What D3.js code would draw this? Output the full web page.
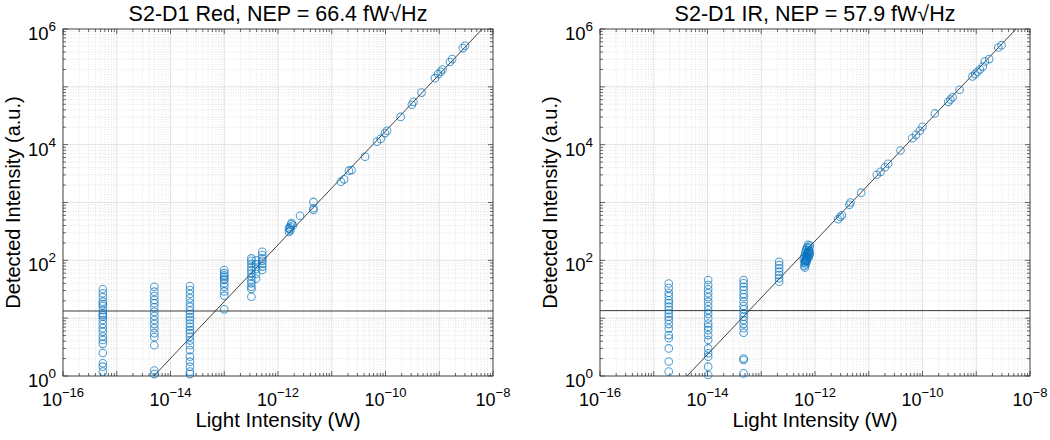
<!DOCTYPE html>
<html><head><meta charset="utf-8">
<script src="https://cdn.jsdelivr.net/npm/d3@7"></script>
<style>body{margin:0;background:#fff}svg{display:block;font-family:"Liberation Sans",Arial,Helvetica,sans-serif}</style>
</head><body><svg id="c" width="1050" height="440"></svg>
<script>
// ---------- data ----------
const titles = ["S2-D1 Red, NEP = 66.4 fW\u221AHz", "S2-D1 IR, NEP = 57.9 fW\u221AHz"];
const xLabel = "Light Intensity (W)";
const yLabel = "Detected Intensity (a.u.)";
const xTickExps = [-16, -14, -12, -10, -8];
const yTickExps = [0, 2, 4, 6];

// Red panel: low-light clusters (x, list of y)
const redClusterX = [5.5e-16, 5e-15, 2.3e-14, 1e-13, 3.2e-13, 3.9e-13, 5.1e-13];
const redClusterY = [
  [31.6, 27, 23, 19.3, 17.5, 16.2, 13.8, 12.1, 11.3, 10.6, 9.3, 7.9, 6.7, 5.8, 4.8, 4.2, 3.6, 2.5, 1.66, 1.45, 1.19],
  [35, 28.7, 24.2, 20.6, 18.1, 15.4, 12.9, 10.9, 9.3, 7.9, 6.7, 5.5, 4.7, 3.4, 1.24, 1.08],
  [36, 30.7, 26.2, 22, 18.5, 15.8, 13.5, 11.8, 10.4, 9.3, 8.1, 7.1, 6.2, 5.5, 4.8, 4.1, 3.4, 2.8, 2.16, 1.77, 1.45, 1.19, 1.08],
  [68, 60, 55, 52, 48, 45.6, 40, 35, 29, 24.5, 14.2],
  [108, 98, 87, 76, 67, 59, 52, 45, 40, 35, 32, 23.5],
  [100, 85, 70, 58, 48],
  [141, 123, 108, 98, 87, 78, 68]
];
const redHighX = [1.6e-12, 1.65e-12, 1.7e-12, 1.75e-12, 1.8e-12, 1.7e-12, 1.9e-12, 1.6e-12,
  2.57e-12, 4.57e-12, 4.57e-12, 4.57e-12, 1.48e-11, 1.70e-11, 2.09e-11, 2.34e-11, 4.17e-11,
  6.92e-11, 8.13e-11, 9.77e-11, 1.07e-10, 1.91e-10, 3.09e-10, 3.31e-10, 4.68e-10,
  8.32e-10, 9.55e-10, 1.07e-9, 1.15e-9, 1.58e-9, 1.74e-9, 2.75e-9, 3.02e-9];
const redHighY = [310, 350, 380, 420, 440, 330, 400, 360,
  589, 1023, 741, 794, 2290, 2512, 3548, 3631, 6166,
  11220, 12590, 15850, 17380, 30200, 48980, 54950, 79430,
  141250, 165960, 181970, 199530, 269150, 302000, 467740, 512860];

// IR panel
const irClusterX = [1.9e-15, 1.03e-14, 4.7e-14, 2.15e-13];
const irClusterY = [
  [39.8, 33.1, 27.5, 24.0, 20.4, 18.2, 15.8, 13.8, 12.0, 10.6, 9.3, 7.9, 6.6, 5.1, 4.5, 3.0, 1.78, 1.19],
  [45.7, 37.5, 31.6, 26.9, 23, 19.3, 16.2, 13.8, 11.8, 9.9, 8.1, 7.1, 6.2, 5.1, 4.2, 3.0, 2.47, 2.16, 1.45, 1.04],
  [45.7, 40, 35, 30.7, 26.2, 23, 19.3, 16.2, 14.2, 12.1, 10.6, 9.3, 7.9, 6.7, 5.6, 2.0, 1.89, 1.11],
  [94.7, 83, 72.8, 63.7, 55.8, 48.9, 42.8]
];
const irHighX = [6.3e-13, 6.5e-13, 6.6e-13, 6.8e-13, 7.0e-13, 7.2e-13, 7.4e-13, 7.6e-13, 7.8e-13, 8.0e-13,
  6.4e-13, 6.7e-13, 6.9e-13, 7.1e-13, 7.3e-13, 7.5e-13, 7.7e-13, 7.9e-13, 6.2e-13, 6.4e-13,
  6.6e-13, 6.8e-13, 7.0e-13, 7.2e-13, 7.4e-13, 6.5e-13, 7.0e-13, 7.5e-13, 8.0e-13, 7.8e-13,
  2.69e-12, 2.95e-12, 3.16e-12, 4.37e-12, 4.57e-12, 7.24e-12, 1.41e-11, 1.66e-11, 2.00e-11, 2.29e-11,
  3.89e-11, 6.46e-11, 7.59e-11, 8.91e-11, 1.0e-10, 1.70e-10, 3.02e-10, 3.31e-10, 3.63e-10, 4.90e-10,
  8.51e-10, 9.55e-10, 1.05e-9, 1.17e-9, 1.32e-9, 1.45e-9, 1.74e-9, 2.57e-9, 2.95e-9];
const irHighY = [80, 90, 100, 110, 120, 130, 140, 150, 165, 180,
  95, 85, 100, 105, 115, 125, 135, 145, 105, 120,
  135, 150, 160, 170, 185, 75, 95, 110, 130, 120,
  513, 562, 603, 912, 1000, 1479, 3020, 3388, 4074, 4677,
  7943, 12880, 14790, 17380, 20420, 34670, 54950, 60260, 66070, 89130,
  151360, 165960, 181970, 199530, 223870, 275420, 302000, 478630, 524810];

// fit lines (two end points each) and noise floors
const redFitX = [4.9e-15, 6.3e-9], redFitY = [1, 1e6];
const irFitX = [4.17e-15, 5.5e-9], irFitY = [1, 1e6];
const noiseLevels = [13.3, 13.5];

// ---------- drawing ----------
const svg = d3.select("#c");
const yTop = 29, yBot = 376;
const panels = [
  {x0: 63, x1: 493, title: titles[0], clX: redClusterX, clY: redClusterY, hX: redHighX, hY: redHighY, fX: redFitX, fY: redFitY, noise: noiseLevels[0]},
  {x0: 600, x1: 1030, title: titles[1], clX: irClusterX, clY: irClusterY, hX: irHighX, hY: irHighY, fX: irFitX, fY: irFitY, noise: noiseLevels[1]}
];
const axCol = "#262626";

panels.forEach((p, pi) => {
  const x = d3.scaleLog().domain([1e-16, 1e-8]).range([p.x0, p.x1]);
  const y = d3.scaleLog().domain([1, 1e6]).range([yBot, yTop]);
  const g = svg.append("g");
  const clipId = "clip" + pi;
  svg.append("clipPath").attr("id", clipId).append("rect")
    .attr("x", p.x0).attr("y", yTop).attr("width", p.x1 - p.x0).attr("height", yBot - yTop);

  const xMajor = d3.range(-16, -7).map(e => Math.pow(10, e));
  const yMajor = d3.range(0, 7).map(e => Math.pow(10, e));
  const xMinor = [], yMinor = [];
  d3.range(-16, -8).forEach(e => d3.range(2, 10).forEach(k => xMinor.push(k * Math.pow(10, e))));
  d3.range(0, 6).forEach(e => d3.range(2, 10).forEach(k => yMinor.push(k * Math.pow(10, e))));

  g.selectAll(".gxm").data(xMinor).join("line")
    .attr("x1", d => x(d)).attr("x2", d => x(d)).attr("y1", yTop).attr("y2", yBot)
    .attr("stroke", "#d4d4d4").attr("stroke-width", 0.6).attr("stroke-dasharray", "1,1.5");
  g.selectAll(".gym").data(yMinor).join("line")
    .attr("y1", d => y(d)).attr("y2", d => y(d)).attr("x1", p.x0).attr("x2", p.x1)
    .attr("stroke", "#d4d4d4").attr("stroke-width", 0.6).attr("stroke-dasharray", "1,1.5");
  g.selectAll(".gx").data(xMajor).join("line")
    .attr("x1", d => x(d)).attr("x2", d => x(d)).attr("y1", yTop).attr("y2", yBot)
    .attr("stroke", "#dcdcdc").attr("stroke-width", 0.8);
  g.selectAll(".gy").data(yMajor).join("line")
    .attr("y1", d => y(d)).attr("y2", d => y(d)).attr("x1", p.x0).attr("x2", p.x1)
    .attr("stroke", "#dcdcdc").attr("stroke-width", 0.8);

  const tk = g.append("g").attr("stroke", axCol).attr("stroke-width", 0.7);
  [[xMajor, 5], [xMinor, 3]].forEach(([vals, len]) => {
    vals.forEach(v => {
      tk.append("line").attr("x1", x(v)).attr("x2", x(v)).attr("y1", yBot).attr("y2", yBot - len);
      tk.append("line").attr("x1", x(v)).attr("x2", x(v)).attr("y1", yTop).attr("y2", yTop + len);
    });
  });
  [[yMajor, 5], [yMinor, 3]].forEach(([vals, len]) => {
    vals.forEach(v => {
      tk.append("line").attr("y1", y(v)).attr("y2", y(v)).attr("x1", p.x0).attr("x2", p.x0 + len);
      tk.append("line").attr("y1", y(v)).attr("y2", y(v)).attr("x1", p.x1).attr("x2", p.x1 - len);
    });
  });
  g.append("rect").attr("x", p.x0).attr("y", yTop).attr("width", p.x1 - p.x0).attr("height", yBot - yTop)
    .attr("fill", "none").attr("stroke", axCol).attr("stroke-width", 0.8);

  g.append("line").attr("clip-path", `url(#${clipId})`)
    .attr("x1", p.x0).attr("x2", p.x1).attr("y1", y(p.noise)).attr("y2", y(p.noise))
    .attr("stroke", "#3a3a3a").attr("stroke-width", 1);

  const b = Math.log10(p.fY[1] / p.fY[0]) / Math.log10(p.fX[1] / p.fX[0]);
  const fitAt = xv => p.fY[0] * Math.pow(xv / p.fX[0], b);
  const xa = p.fX[0] / 3, xb = p.fX[1] * 3;
  g.append("path").attr("clip-path", `url(#${clipId})`)
    .datum([xa, xb])
    .attr("d", d3.line().x(d => x(d)).y(d => y(fitAt(d))))
    .attr("stroke", "#111").attr("stroke-width", 0.8).attr("fill", "none");

  const pts = [];
  p.clX.forEach((cx, i) => p.clY[i].forEach(v => pts.push([cx, v])));
  p.hX.forEach((hx, i) => pts.push([hx, p.hY[i]]));
  g.append("g").selectAll("circle").data(pts).join("circle")
    .attr("cx", d => x(d[0])).attr("cy", d => y(d[1])).attr("r", 3.8)
    .attr("fill", "none").attr("stroke", "#0072BD").attr("stroke-opacity", 0.68).attr("stroke-width", 1.05);

  const tl = g.append("g").attr("fill", "#000");
  xTickExps.forEach(e => {
    const t = tl.append("text").attr("x", x(Math.pow(10, e))).attr("y", yBot + 30)
      .attr("text-anchor", "middle").attr("font-size", 18);
    t.append("tspan").text("10");
    t.append("tspan").attr("font-size", 13).attr("dy", -9).text(String(e).replace("-", "\u2212"));
  });
  yTickExps.forEach(e => {
    const t = tl.append("text").attr("x", p.x0 - 7).attr("y", y(Math.pow(10, e)) + 11)
      .attr("text-anchor", "end").attr("font-size", 18.5);
    t.append("tspan").text("10");
    t.append("tspan").attr("font-size", 13.5).attr("dy", -9).text(String(e));
  });

  const cx = (p.x0 + p.x1) / 2;
  g.append("text").attr("x", cx).attr("y", 21).attr("text-anchor", "middle")
    .attr("font-size", 21.5).attr("fill", "#000").text(p.title);
  g.append("text").attr("x", cx).attr("y", 427).attr("text-anchor", "middle")
    .attr("font-size", 20.5).attr("fill", "#000").text(xLabel);
  g.append("text").attr("transform", `translate(${p.x0 - 43},${(yTop + yBot) / 2}) rotate(-90)`)
    .attr("text-anchor", "middle").attr("font-size", 20).attr("fill", "#000").text(yLabel);
});
</script></body></html>
